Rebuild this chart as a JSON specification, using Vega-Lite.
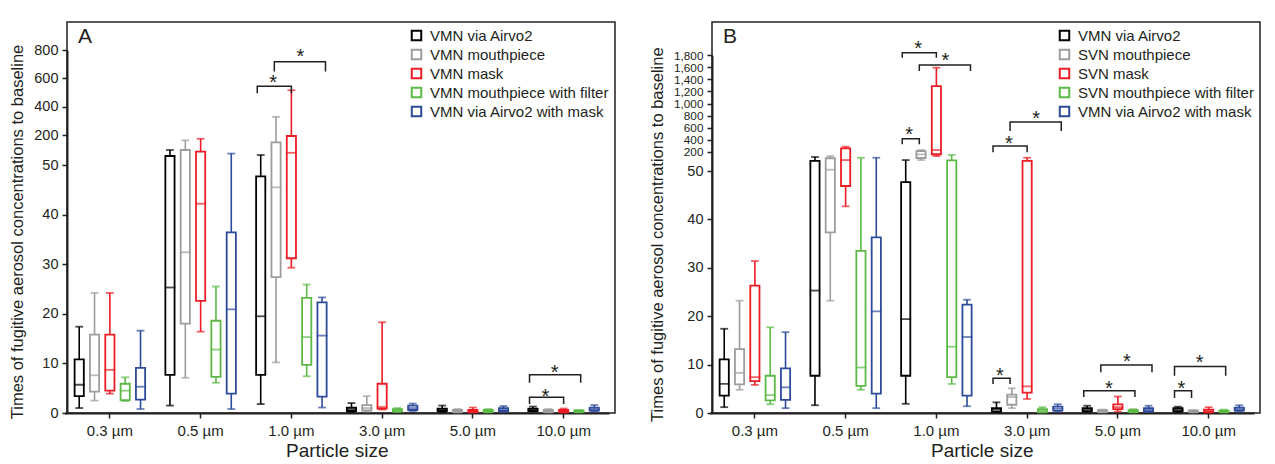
{
  "$schema": "https://vega.github.io/schema/vega-lite/v6.json",
  "padding": {"left": 9, "top": 21, "right": 2, "bottom": 0},
  "spacing": 32,
  "config": {
    "font": "Liberation Sans",
    "view": {"stroke": "#231f20", "strokeWidth": 1.5},
    "axis": {"domainColor": "#231f20", "domainWidth": 2, "tickColor": "#231f20", "tickWidth": 1.5, "tickSize": 5, "labelFontSize": 14.5, "labelColor": "#231f20", "titleColor": "#231f20", "titleFontWeight": "normal", "grid": false, "labelOverlap": false},
    "legend": {"orient": "top-right", "offset": 6, "padding": 0, "labelFontSize": 15, "labelLimit": 300, "labelColor": "#231f20", "symbolType": "square", "symbolSize": 90, "symbolStrokeWidth": 2, "symbolFillColor": "white", "rowPadding": 0, "labelOffset": 6}
  },
  "datasets": {
    "boxA": [
      {"size": "0.3 µm", "series": "VMN via Airvo2", "lo": 1.0, "q1": 3.4, "med": 5.7, "q3": 10.8, "hi": 17.4},
      {"size": "0.3 µm", "series": "VMN mouthpiece", "lo": 2.5, "q1": 4.3, "med": 7.6, "q3": 15.8, "hi": 24.2},
      {"size": "0.3 µm", "series": "VMN mask", "lo": 3.9, "q1": 4.5, "med": 8.7, "q3": 15.8, "hi": 24.2},
      {"size": "0.3 µm", "series": "VMN mouthpiece with filter", "lo": 2.4, "q1": 2.6, "med": 4.5, "q3": 5.9, "hi": 7.2},
      {"size": "0.3 µm", "series": "VMN via Airvo2 with mask", "lo": 0.8, "q1": 2.7, "med": 5.3, "q3": 9.1, "hi": 16.6},
      {"size": "0.5 µm", "series": "VMN via Airvo2", "lo": 1.5, "q1": 7.7, "med": 25.3, "q3": 95, "hi": 125},
      {"size": "0.5 µm", "series": "VMN mouthpiece", "lo": 7.1, "q1": 18.0, "med": 32.4, "q3": 125, "hi": 173},
      {"size": "0.5 µm", "series": "VMN mask", "lo": 16.4, "q1": 22.6, "med": 42.2, "q3": 117, "hi": 181},
      {"size": "0.5 µm", "series": "VMN mouthpiece with filter", "lo": 6.1, "q1": 7.3, "med": 12.8, "q3": 18.6, "hi": 25.5},
      {"size": "0.5 µm", "series": "VMN via Airvo2 with mask", "lo": 0.8, "q1": 3.9, "med": 20.9, "q3": 36.4, "hi": 107},
      {"size": "1.0 µm", "series": "VMN via Airvo2", "lo": 1.8, "q1": 7.7, "med": 19.5, "q3": 47.7, "hi": 100},
      {"size": "1.0 µm", "series": "VMN mouthpiece", "lo": 10.2, "q1": 27.4, "med": 45.5, "q3": 163, "hi": 328},
      {"size": "1.0 µm", "series": "VMN mask", "lo": 29.3, "q1": 31.2, "med": 111, "q3": 195, "hi": 516},
      {"size": "1.0 µm", "series": "VMN mouthpiece with filter", "lo": 7.4, "q1": 9.7, "med": 15.3, "q3": 23.2, "hi": 25.9},
      {"size": "1.0 µm", "series": "VMN via Airvo2 with mask", "lo": 1.1, "q1": 3.3, "med": 15.6, "q3": 22.3, "hi": 23.3},
      {"size": "3.0 µm", "series": "VMN via Airvo2", "lo": 0.2, "q1": 0.4, "med": 0.8, "q3": 1.1, "hi": 2.0},
      {"size": "3.0 µm", "series": "VMN mouthpiece", "lo": 0.3, "q1": 0.5, "med": 1.0, "q3": 1.6, "hi": 3.4},
      {"size": "3.0 µm", "series": "VMN mask", "lo": 0.7, "q1": 0.9, "med": 1.2, "q3": 5.9, "hi": 18.3},
      {"size": "3.0 µm", "series": "VMN mouthpiece with filter", "lo": 0.2, "q1": 0.3, "med": 0.5, "q3": 0.8, "hi": 1.0},
      {"size": "3.0 µm", "series": "VMN via Airvo2 with mask", "lo": 0.4, "q1": 0.6, "med": 1.0, "q3": 1.5, "hi": 1.9},
      {"size": "5.0 µm", "series": "VMN via Airvo2", "lo": 0.2, "q1": 0.4, "med": 0.7, "q3": 0.9, "hi": 1.5},
      {"size": "5.0 µm", "series": "VMN mouthpiece", "lo": 0.1, "q1": 0.2, "med": 0.4, "q3": 0.6, "hi": 0.8},
      {"size": "5.0 µm", "series": "VMN mask", "lo": 0.1, "q1": 0.2, "med": 0.4, "q3": 0.6, "hi": 1.1},
      {"size": "5.0 µm", "series": "VMN mouthpiece with filter", "lo": 0.1, "q1": 0.2, "med": 0.4, "q3": 0.6, "hi": 0.8},
      {"size": "5.0 µm", "series": "VMN via Airvo2 with mask", "lo": 0.2, "q1": 0.4, "med": 0.7, "q3": 1.0, "hi": 1.4},
      {"size": "10.0 µm", "series": "VMN via Airvo2", "lo": 0.3, "q1": 0.4, "med": 0.7, "q3": 0.9, "hi": 1.3},
      {"size": "10.0 µm", "series": "VMN mouthpiece", "lo": 0.1, "q1": 0.2, "med": 0.4, "q3": 0.6, "hi": 0.8},
      {"size": "10.0 µm", "series": "VMN mask", "lo": 0.1, "q1": 0.2, "med": 0.4, "q3": 0.6, "hi": 0.9},
      {"size": "10.0 µm", "series": "VMN mouthpiece with filter", "lo": 0.1, "q1": 0.2, "med": 0.3, "q3": 0.5, "hi": 0.6},
      {"size": "10.0 µm", "series": "VMN via Airvo2 with mask", "lo": 0.3, "q1": 0.5, "med": 0.8, "q3": 1.1, "hi": 1.6}
    ],
    "boxB": [
      {"size": "0.3 µm", "series": "VMN via Airvo2", "lo": 1.2, "q1": 3.6, "med": 6.0, "q3": 11.1, "hi": 17.4},
      {"size": "0.3 µm", "series": "SVN mouthpiece", "lo": 4.8, "q1": 5.9, "med": 8.3, "q3": 13.2, "hi": 23.2},
      {"size": "0.3 µm", "series": "SVN mask", "lo": 5.8, "q1": 6.6, "med": 7.4, "q3": 26.3, "hi": 31.4},
      {"size": "0.3 µm", "series": "SVN mouthpiece with filter", "lo": 1.8, "q1": 2.6, "med": 3.7, "q3": 7.7, "hi": 17.7},
      {"size": "0.3 µm", "series": "VMN via Airvo2 with mask", "lo": 1.0, "q1": 2.7, "med": 5.3, "q3": 9.2, "hi": 16.7},
      {"size": "0.5 µm", "series": "VMN via Airvo2", "lo": 1.6, "q1": 7.7, "med": 25.3, "q3": 128, "hi": 159},
      {"size": "0.5 µm", "series": "SVN mouthpiece", "lo": 23.2, "q1": 37.3, "med": 60, "q3": 149, "hi": 166},
      {"size": "0.5 µm", "series": "SVN mask", "lo": 42.7, "q1": 46.9, "med": 135, "q3": 256, "hi": 283},
      {"size": "0.5 µm", "series": "SVN mouthpiece with filter", "lo": 4.8, "q1": 5.6, "med": 9.4, "q3": 33.5, "hi": 153},
      {"size": "0.5 µm", "series": "VMN via Airvo2 with mask", "lo": 1.0, "q1": 4.0, "med": 21.0, "q3": 36.3, "hi": 153},
      {"size": "1.0 µm", "series": "VMN via Airvo2", "lo": 1.9, "q1": 7.7, "med": 19.4, "q3": 47.7, "hi": 135},
      {"size": "1.0 µm", "series": "SVN mouthpiece", "lo": 135, "q1": 151, "med": 179, "q3": 211, "hi": 228},
      {"size": "1.0 µm", "series": "SVN mask", "lo": 166, "q1": 180, "med": 228, "q3": 1290, "hi": 1594},
      {"size": "1.0 µm", "series": "SVN mouthpiece with filter", "lo": 6.0, "q1": 7.4, "med": 13.7, "q3": 133, "hi": 174},
      {"size": "1.0 µm", "series": "VMN via Airvo2 with mask", "lo": 1.4, "q1": 3.6, "med": 15.7, "q3": 22.4, "hi": 23.4},
      {"size": "3.0 µm", "series": "VMN via Airvo2", "lo": 0.2, "q1": 0.3, "med": 0.7, "q3": 1.0, "hi": 2.2},
      {"size": "3.0 µm", "series": "SVN mouthpiece", "lo": 1.0, "q1": 1.7, "med": 3.3, "q3": 3.8, "hi": 5.1},
      {"size": "3.0 µm", "series": "SVN mask", "lo": 2.9, "q1": 4.2, "med": 5.5, "q3": 128, "hi": 153},
      {"size": "3.0 µm", "series": "SVN mouthpiece with filter", "lo": 0.1, "q1": 0.2, "med": 0.5, "q3": 0.8, "hi": 1.2},
      {"size": "3.0 µm", "series": "VMN via Airvo2 with mask", "lo": 0.3, "q1": 0.5, "med": 0.9, "q3": 1.3, "hi": 1.8},
      {"size": "5.0 µm", "series": "VMN via Airvo2", "lo": 0.2, "q1": 0.4, "med": 0.7, "q3": 1.0, "hi": 1.5},
      {"size": "5.0 µm", "series": "SVN mouthpiece", "lo": 0.1, "q1": 0.2, "med": 0.4, "q3": 0.6, "hi": 0.7},
      {"size": "5.0 µm", "series": "SVN mask", "lo": 0.3, "q1": 0.8, "med": 1.2, "q3": 1.8, "hi": 3.4},
      {"size": "5.0 µm", "series": "SVN mouthpiece with filter", "lo": 0.1, "q1": 0.2, "med": 0.3, "q3": 0.6, "hi": 0.8},
      {"size": "5.0 µm", "series": "VMN via Airvo2 with mask", "lo": 0.2, "q1": 0.4, "med": 0.7, "q3": 1.0, "hi": 1.5},
      {"size": "10.0 µm", "series": "VMN via Airvo2", "lo": 0.2, "q1": 0.4, "med": 0.7, "q3": 1.0, "hi": 1.3},
      {"size": "10.0 µm", "series": "SVN mouthpiece", "lo": 0.1, "q1": 0.2, "med": 0.3, "q3": 0.5, "hi": 0.6},
      {"size": "10.0 µm", "series": "SVN mask", "lo": 0.1, "q1": 0.2, "med": 0.4, "q3": 0.7, "hi": 1.2},
      {"size": "10.0 µm", "series": "SVN mouthpiece with filter", "lo": 0.1, "q1": 0.2, "med": 0.3, "q3": 0.5, "hi": 0.7},
      {"size": "10.0 µm", "series": "VMN via Airvo2 with mask", "lo": 0.3, "q1": 0.5, "med": 0.8, "q3": 1.1, "hi": 1.6}
    ],
    "brA": [
      {"id": "a1", "size": "1.0 µm", "series": "VMN via Airvo2", "yv": 495, "ord": 1},
      {"id": "a1", "size": "1.0 µm", "series": "VMN via Airvo2", "yv": 544, "ord": 2},
      {"id": "a1", "size": "1.0 µm", "series": "VMN mask", "yv": 544, "ord": 3},
      {"id": "a1", "size": "1.0 µm", "series": "VMN mask", "yv": 495, "ord": 4},
      {"id": "a2", "size": "1.0 µm", "series": "VMN mouthpiece", "yv": 649, "ord": 1},
      {"id": "a2", "size": "1.0 µm", "series": "VMN mouthpiece", "yv": 717, "ord": 2},
      {"id": "a2", "size": "1.0 µm", "series": "VMN via Airvo2 with mask", "yv": 717, "ord": 3},
      {"id": "a2", "size": "1.0 µm", "series": "VMN via Airvo2 with mask", "yv": 649, "ord": 4},
      {"id": "a3", "size": "10.0 µm", "series": "VMN via Airvo2", "yv": 1.8, "ord": 1},
      {"id": "a3", "size": "10.0 µm", "series": "VMN via Airvo2", "yv": 3.2, "ord": 2},
      {"id": "a3", "size": "10.0 µm", "series": "VMN mask", "yv": 3.2, "ord": 3},
      {"id": "a3", "size": "10.0 µm", "series": "VMN mask", "yv": 1.8, "ord": 4},
      {"id": "a4", "size": "10.0 µm", "series": "VMN via Airvo2", "yv": 6.1, "ord": 1},
      {"id": "a4", "size": "10.0 µm", "series": "VMN via Airvo2", "yv": 7.7, "ord": 2},
      {"id": "a4", "size": "10.0 µm", "series": "VMN mouthpiece with filter", "yv": 7.7, "ord": 3},
      {"id": "a4", "size": "10.0 µm", "series": "VMN mouthpiece with filter", "yv": 6.1, "ord": 4}
    ],
    "brB": [
      {"id": "b1", "size": "1.0 µm", "series": "VMN via Airvo2", "yv": 323, "ord": 1},
      {"id": "b1", "size": "1.0 µm", "series": "VMN via Airvo2", "yv": 416, "ord": 2},
      {"id": "b1", "size": "1.0 µm", "series": "SVN mouthpiece", "yv": 416, "ord": 3},
      {"id": "b1", "size": "1.0 µm", "series": "SVN mouthpiece", "yv": 323, "ord": 4},
      {"id": "b2", "size": "1.0 µm", "series": "VMN via Airvo2", "yv": 1760, "ord": 1},
      {"id": "b2", "size": "1.0 µm", "series": "VMN via Airvo2", "yv": 1843, "ord": 2},
      {"id": "b2", "size": "1.0 µm", "series": "SVN mask", "yv": 1843, "ord": 3},
      {"id": "b2", "size": "1.0 µm", "series": "SVN mask", "yv": 1760, "ord": 4},
      {"id": "b3", "size": "1.0 µm", "series": "SVN mouthpiece", "yv": 1540, "ord": 1},
      {"id": "b3", "size": "1.0 µm", "series": "SVN mouthpiece", "yv": 1639, "ord": 2},
      {"id": "b3", "size": "1.0 µm", "series": "VMN via Airvo2 with mask", "yv": 1639, "ord": 3},
      {"id": "b3", "size": "1.0 µm", "series": "VMN via Airvo2 with mask", "yv": 1540, "ord": 4},
      {"id": "b4", "size": "3.0 µm", "series": "VMN via Airvo2", "yv": 6.0, "ord": 1},
      {"id": "b4", "size": "3.0 µm", "series": "VMN via Airvo2", "yv": 7.2, "ord": 2},
      {"id": "b4", "size": "3.0 µm", "series": "SVN mouthpiece", "yv": 7.2, "ord": 3},
      {"id": "b4", "size": "3.0 µm", "series": "SVN mouthpiece", "yv": 6.0, "ord": 4},
      {"id": "b5", "size": "3.0 µm", "series": "VMN via Airvo2", "yv": 195, "ord": 1},
      {"id": "b5", "size": "3.0 µm", "series": "VMN via Airvo2", "yv": 295, "ord": 2},
      {"id": "b5", "size": "3.0 µm", "series": "SVN mask", "yv": 295, "ord": 3},
      {"id": "b5", "size": "3.0 µm", "series": "SVN mask", "yv": 195, "ord": 4},
      {"id": "b6", "size": "3.0 µm", "series": "SVN mouthpiece", "yv": 544, "ord": 1},
      {"id": "b6", "size": "3.0 µm", "series": "SVN mouthpiece", "yv": 693, "ord": 2},
      {"id": "b6", "size": "3.0 µm", "series": "VMN via Airvo2 with mask", "yv": 693, "ord": 3},
      {"id": "b6", "size": "3.0 µm", "series": "VMN via Airvo2 with mask", "yv": 544, "ord": 4},
      {"id": "b7", "size": "5.0 µm", "series": "VMN via Airvo2", "yv": 3.3, "ord": 1},
      {"id": "b7", "size": "5.0 µm", "series": "VMN via Airvo2", "yv": 4.6, "ord": 2},
      {"id": "b7", "size": "5.0 µm", "series": "SVN mouthpiece with filter", "yv": 4.6, "ord": 3},
      {"id": "b7", "size": "5.0 µm", "series": "SVN mouthpiece with filter", "yv": 3.3, "ord": 4},
      {"id": "b8", "size": "5.0 µm", "series": "SVN mouthpiece", "yv": 8.4, "ord": 1},
      {"id": "b8", "size": "5.0 µm", "series": "SVN mouthpiece", "yv": 9.9, "ord": 2},
      {"id": "b8", "size": "5.0 µm", "series": "VMN via Airvo2 with mask", "yv": 9.9, "ord": 3},
      {"id": "b8", "size": "5.0 µm", "series": "VMN via Airvo2 with mask", "yv": 8.4, "ord": 4},
      {"id": "b9", "size": "10.0 µm", "series": "VMN via Airvo2", "yv": 3.1, "ord": 1},
      {"id": "b9", "size": "10.0 µm", "series": "VMN via Airvo2", "yv": 4.6, "ord": 2},
      {"id": "b9", "size": "10.0 µm", "series": "SVN mouthpiece", "yv": 4.6, "ord": 3},
      {"id": "b9", "size": "10.0 µm", "series": "SVN mouthpiece", "yv": 3.1, "ord": 4},
      {"id": "b10", "size": "10.0 µm", "series": "VMN via Airvo2", "yv": 7.7, "ord": 1},
      {"id": "b10", "size": "10.0 µm", "series": "VMN via Airvo2", "yv": 9.6, "ord": 2},
      {"id": "b10", "size": "10.0 µm", "series": "SVN mouthpiece with filter", "yv": 9.6, "ord": 3},
      {"id": "b10", "size": "10.0 µm", "series": "SVN mouthpiece with filter", "yv": 7.7, "ord": 4}
    ],
    "starA": [
      {"size": "1.0 µm", "mid": "2", "yv": 607},
      {"size": "1.0 µm", "mid": "3.5", "yv": 790},
      {"size": "10.0 µm", "mid": "2", "yv": 4.5},
      {"size": "10.0 µm", "mid": "2.5", "yv": 9.3}
    ],
    "starB": [
      {"size": "1.0 µm", "mid": "1.5", "yv": 577},
      {"size": "1.0 µm", "mid": "2", "yv": 2000},
      {"size": "1.0 µm", "mid": "3.5", "yv": 1805},
      {"size": "3.0 µm", "mid": "1.5", "yv": 8.9},
      {"size": "3.0 µm", "mid": "2", "yv": 432},
      {"size": "3.0 µm", "mid": "3.5", "yv": 847},
      {"size": "5.0 µm", "mid": "2.5", "yv": 6.1},
      {"size": "5.0 µm", "mid": "3.5", "yv": 11.7},
      {"size": "10.0 µm", "mid": "1.5", "yv": 6.1},
      {"size": "10.0 µm", "mid": "2.5", "yv": 11.6}
    ]
  },
  "resolve": {"scale": {"x": "independent", "y": "independent", "xOffset": "independent", "stroke": "independent"}, "legend": {"stroke": "independent"}},
  "hconcat": [
    {
      "width": 548, "height": 391,
      "title": {"text": "A", "anchor": "start", "frame": "group", "offset": -25, "dx": 11, "fontSize": 21, "fontWeight": "normal", "color": "#231f20"},
      "resolve": {"scale": {"xOffset": "independent"}},
      "layer": [
        {
          "data": {"name": "boxA"},
          "layer": [
            {"mark": {"type": "rule", "strokeWidth": 1.6},
             "encoding": {
               "x": {"field": "size", "type": "nominal", "title": "Particle size", "scale": {"domain": ["0.3 µm","0.5 µm","1.0 µm","3.0 µm","5.0 µm","10.0 µm"], "range": [-2.5, 542], "paddingInner": 0, "paddingOuter": 0}, "axis": {"labelAngle": 0, "bandPosition": 0.5, "labelPadding": 5, "labelFontSize": 15, "titleFontSize": 19, "titlePadding": 3}},
               "xOffset": {"field": "series", "type": "nominal", "scale": {"domain": ["VMN via Airvo2","VMN mouthpiece","VMN mask","VMN mouthpiece with filter","VMN via Airvo2 with mask"], "paddingInner": 0.4, "paddingOuter": 0.66}},
               "y": {"field": "lo", "type": "quantitative", "title": "Times of fugitive aerosol concentrations to baseline", "scale": {"domain": [0, 50, 200, 800], "range": [391, 143, 113, 28], "nice": false, "zero": false}, "axis": {"values": [0,10,20,30,40,50,200,400,600,800], "tickCount": 30, "labelOverlap": false, "titleFontSize": 16.5, "titlePadding": 8, "labelPadding": 4}},
               "y2": {"field": "hi"},
               "stroke": {"field": "series", "type": "nominal", "scale": {"domain": ["VMN via Airvo2","VMN mouthpiece","VMN mask","VMN mouthpiece with filter","VMN via Airvo2 with mask"], "range": ["#000000","#9d9d9d","#ed1c24","#5cb946","#2e4b9b"]}, "legend": {"title": null}}
             }},
            {"mark": {"type": "bar", "fill": "white", "strokeWidth": 1.8},
             "encoding": {
               "x": {"field": "size", "type": "nominal", "title": "Particle size"},
               "xOffset": {"field": "series", "type": "nominal"},
               "y": {"field": "q1", "type": "quantitative", "title": "Times of fugitive aerosol concentrations to baseline"},
               "y2": {"field": "q3"},
               "stroke": {"field": "series", "type": "nominal"}
             }},
            {"mark": {"type": "tick", "size": 9, "filled": false, "thickness": 0.01, "strokeWidth": 1.8},
             "encoding": {
               "x": {"field": "size", "type": "nominal", "title": "Particle size"},
               "xOffset": {"field": "series", "type": "nominal"},
               "y": {"field": "med", "type": "quantitative", "title": "Times of fugitive aerosol concentrations to baseline"},
               "stroke": {"field": "series", "type": "nominal"}
             }},
            {"mark": {"type": "tick", "size": 6, "filled": false, "thickness": 0.01, "strokeWidth": 1.8},
             "encoding": {
               "x": {"field": "size", "type": "nominal", "title": "Particle size"},
               "xOffset": {"field": "series", "type": "nominal"},
               "y": {"field": "lo", "type": "quantitative", "title": "Times of fugitive aerosol concentrations to baseline"},
               "stroke": {"field": "series", "type": "nominal"}
             }},
            {"mark": {"type": "tick", "size": 6, "filled": false, "thickness": 0.01, "strokeWidth": 1.8},
             "encoding": {
               "x": {"field": "size", "type": "nominal", "title": "Particle size"},
               "xOffset": {"field": "series", "type": "nominal"},
               "y": {"field": "hi", "type": "quantitative", "title": "Times of fugitive aerosol concentrations to baseline"},
               "stroke": {"field": "series", "type": "nominal"}
             }}
          ]
        },
        {
          "data": {"name": "brA"},
          "mark": {"type": "line", "color": "#231f20", "strokeWidth": 1.5},
          "encoding": {
            "x": {"field": "size", "type": "nominal", "title": "Particle size"},
            "xOffset": {"field": "series", "type": "nominal", "scale": {"domain": ["VMN via Airvo2","VMN mouthpiece","VMN mask","VMN mouthpiece with filter","VMN via Airvo2 with mask"], "paddingInner": 0.4, "paddingOuter": 0.66}},
            "y": {"field": "yv", "type": "quantitative", "title": "Times of fugitive aerosol concentrations to baseline"},
            "detail": {"field": "id"},
            "order": {"field": "ord", "type": "quantitative"}
          }
        },
        {
          "data": {"name": "starA"},
          "mark": {"type": "text", "text": "*", "fontSize": 20, "color": "#231f20", "baseline": "middle", "dy": 6},
          "encoding": {
            "x": {"field": "size", "type": "nominal", "title": "Particle size"},
            "xOffset": {"field": "mid", "type": "nominal", "scale": {"domain": ["1","1.5","2","2.5","3","3.5","4","4.5","5"], "paddingInner": 0, "paddingOuter": 1.42}},
            "y": {"field": "yv", "type": "quantitative", "title": "Times of fugitive aerosol concentrations to baseline"}
          }
        }
      ]
    },
    {
      "width": 548, "height": 391,
      "title": {"text": "B", "anchor": "start", "frame": "group", "offset": -25, "dx": 11, "fontSize": 21, "fontWeight": "normal", "color": "#231f20"},
      "resolve": {"scale": {"xOffset": "independent"}},
      "layer": [
        {
          "data": {"name": "boxB"},
          "layer": [
            {"mark": {"type": "rule", "strokeWidth": 1.6},
             "encoding": {
               "x": {"field": "size", "type": "nominal", "title": "Particle size", "scale": {"domain": ["0.3 µm","0.5 µm","1.0 µm","3.0 µm","5.0 µm","10.0 µm"], "range": [-2.5, 542], "paddingInner": 0, "paddingOuter": 0}, "axis": {"labelAngle": 0, "bandPosition": 0.5, "labelPadding": 5, "labelFontSize": 15, "titleFontSize": 19, "titlePadding": 3}},
               "xOffset": {"field": "series", "type": "nominal", "scale": {"domain": ["VMN via Airvo2","SVN mouthpiece","SVN mask","SVN mouthpiece with filter","VMN via Airvo2 with mask"], "paddingInner": 0.4, "paddingOuter": 0.66}},
               "y": {"field": "lo", "type": "quantitative", "title": "Times of fugitive aerosol concentrations to baseline", "scale": {"domain": [0, 50, 200, 1800], "range": [391, 149, 129.7, 33.3], "nice": false, "zero": false}, "axis": {"values": [0,10,20,30,40,50,200,400,600,800,1000,1200,1400,1600,1800], "tickCount": 30, "format": ",d", "labelOverlap": false, "labelFontSize": {"condition": {"test": "datum.value >= 200", "value": 11.8}, "value": 14.5}, "titleFontSize": 16.5, "titlePadding": 8, "labelPadding": 4}},
               "y2": {"field": "hi"},
               "stroke": {"field": "series", "type": "nominal", "scale": {"domain": ["VMN via Airvo2","SVN mouthpiece","SVN mask","SVN mouthpiece with filter","VMN via Airvo2 with mask"], "range": ["#000000","#9d9d9d","#ed1c24","#5cb946","#2e4b9b"]}, "legend": {"title": null}}
             }},
            {"mark": {"type": "bar", "fill": "white", "strokeWidth": 1.8},
             "encoding": {
               "x": {"field": "size", "type": "nominal", "title": "Particle size"},
               "xOffset": {"field": "series", "type": "nominal"},
               "y": {"field": "q1", "type": "quantitative", "title": "Times of fugitive aerosol concentrations to baseline"},
               "y2": {"field": "q3"},
               "stroke": {"field": "series", "type": "nominal"}
             }},
            {"mark": {"type": "tick", "size": 9, "filled": false, "thickness": 0.01, "strokeWidth": 1.8},
             "encoding": {
               "x": {"field": "size", "type": "nominal", "title": "Particle size"},
               "xOffset": {"field": "series", "type": "nominal"},
               "y": {"field": "med", "type": "quantitative", "title": "Times of fugitive aerosol concentrations to baseline"},
               "stroke": {"field": "series", "type": "nominal"}
             }},
            {"mark": {"type": "tick", "size": 6, "filled": false, "thickness": 0.01, "strokeWidth": 1.8},
             "encoding": {
               "x": {"field": "size", "type": "nominal", "title": "Particle size"},
               "xOffset": {"field": "series", "type": "nominal"},
               "y": {"field": "lo", "type": "quantitative", "title": "Times of fugitive aerosol concentrations to baseline"},
               "stroke": {"field": "series", "type": "nominal"}
             }},
            {"mark": {"type": "tick", "size": 6, "filled": false, "thickness": 0.01, "strokeWidth": 1.8},
             "encoding": {
               "x": {"field": "size", "type": "nominal", "title": "Particle size"},
               "xOffset": {"field": "series", "type": "nominal"},
               "y": {"field": "hi", "type": "quantitative", "title": "Times of fugitive aerosol concentrations to baseline"},
               "stroke": {"field": "series", "type": "nominal"}
             }}
          ]
        },
        {
          "data": {"name": "brB"},
          "mark": {"type": "line", "color": "#231f20", "strokeWidth": 1.5},
          "encoding": {
            "x": {"field": "size", "type": "nominal", "title": "Particle size"},
            "xOffset": {"field": "series", "type": "nominal", "scale": {"domain": ["VMN via Airvo2","SVN mouthpiece","SVN mask","SVN mouthpiece with filter","VMN via Airvo2 with mask"], "paddingInner": 0.4, "paddingOuter": 0.66}},
            "y": {"field": "yv", "type": "quantitative", "title": "Times of fugitive aerosol concentrations to baseline"},
            "detail": {"field": "id"},
            "order": {"field": "ord", "type": "quantitative"}
          }
        },
        {
          "data": {"name": "starB"},
          "mark": {"type": "text", "text": "*", "fontSize": 20, "color": "#231f20", "baseline": "middle", "dy": 6},
          "encoding": {
            "x": {"field": "size", "type": "nominal", "title": "Particle size"},
            "xOffset": {"field": "mid", "type": "nominal", "scale": {"domain": ["1","1.5","2","2.5","3","3.5","4","4.5","5"], "paddingInner": 0, "paddingOuter": 1.42}},
            "y": {"field": "yv", "type": "quantitative", "title": "Times of fugitive aerosol concentrations to baseline"}
          }
        }
      ]
    }
  ]
}
